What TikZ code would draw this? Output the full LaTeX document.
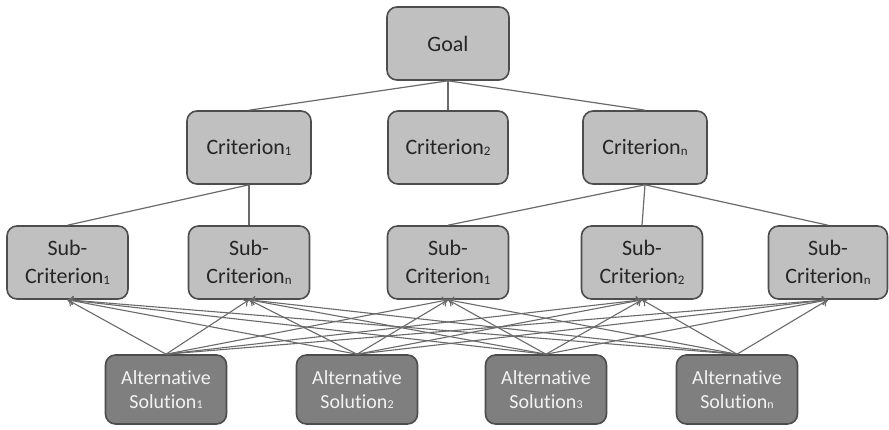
\documentclass[tikz,border=0pt]{standalone}
\usepackage{fontspec}
\setmainfont[Ligatures=NoCommon]{Carlito}
\usetikzlibrary{arrows.meta}
\definecolor{lightbox}{HTML}{C0C0C0}
\definecolor{darkbox}{HTML}{7F7F7F}
\definecolor{edgecol}{HTML}{4D4D4D}
\definecolor{linecol}{HTML}{6A6A6A}
\definecolor{txtdark}{HTML}{262626}
\definecolor{txtlight}{HTML}{F2F2F2}
\newcommand{\sbs}[1]{\raisebox{-0.5pt}{\fontsize{13}{13}\selectfont #1}}
\newcommand{\sbsa}[1]{\raisebox{-0.5pt}{\fontsize{12}{12}\selectfont #1}}
\begin{document}
\begin{tikzpicture}[x=1pt,y=-1pt,
  critbox/.style={draw=edgecol,line width=1.6pt,fill=lightbox,rounded corners=10pt,
    minimum width=122pt,minimum height=73pt,inner sep=0pt,align=center,text=txtdark,
    font=\fontsize{22}{28}\selectfont},
  altbox/.style={draw=edgecol,line width=1.6pt,fill=darkbox,rounded corners=10pt,
    minimum width=121pt,minimum height=69pt,inner sep=0pt,align=center,text=txtlight,
    font=\fontsize{20}{24}\selectfont},
  link/.style={draw=linecol,line width=1.2pt},
  arr/.style={draw=linecol,line width=1.1pt,-{To[length=6pt,width=9pt]}}]
\useasboundingbox (0,0) rectangle (889,429);
% top levels
\node[critbox] (goal) at (448,43.5) {Goal};
\node[critbox,minimum width=124pt] (c1) at (249,147.5) {Criterion\sbs{1}};
\node[critbox,minimum width=120pt] (c2) at (448,147.5) {Criterion\sbs{2}};
\node[critbox,minimum width=124pt] (cn) at (645,147.5) {Criterion\sbs{n}};
% sub-criteria
\node[critbox,minimum width=121pt] (s1) at (67.5,262.5) {Sub-\\Criterion\sbs{1}};
\node[critbox,minimum width=121pt] (s2) at (249,262.5) {Sub-\\Criterion\sbs{n}};
\node[critbox,minimum width=121pt] (s3) at (448,262.5) {Sub-\\Criterion\sbs{1}};
\node[critbox,minimum width=121pt] (s4) at (642,262.5) {Sub-\\Criterion\sbs{2}};
\node[critbox,minimum width=119pt] (s5) at (828,262.5) {Sub-\\Criterion\sbs{n}};
% alternatives
\node[altbox] (a1) at (166,389.5) {Alternative\\Solution\sbsa{1}};
\node[altbox] (a2) at (357,389.5) {Alternative\\Solution\sbsa{2}};
\node[altbox] (a3) at (546,389.5) {Alternative\\Solution\sbsa{3}};
\node[altbox] (a4) at (737,389.5) {Alternative\\Solution\sbsa{n}};
% hierarchy links
\draw[link] (goal.south) -- (c1.north);
\draw[link] (goal.south) -- (c2.north);
\draw[link] (goal.south) -- (cn.north);
\draw[link] (c1.south) -- (s1.north);
\draw[link] (c1.south) -- (s2.north);
\draw[link] (cn.south) -- (s3.north);
\draw[link] (cn.south) -- (s4.north);
\draw[link] (cn.south) -- (s5.north);
% alternatives to sub-criteria
\foreach \a in {a1,a2,a3,a4}{
  \foreach \s in {s1,s2,s3,s4,s5}{
    \draw[arr] (\a.north) -- (\s.south);
  }
}
\end{tikzpicture}
\end{document}
